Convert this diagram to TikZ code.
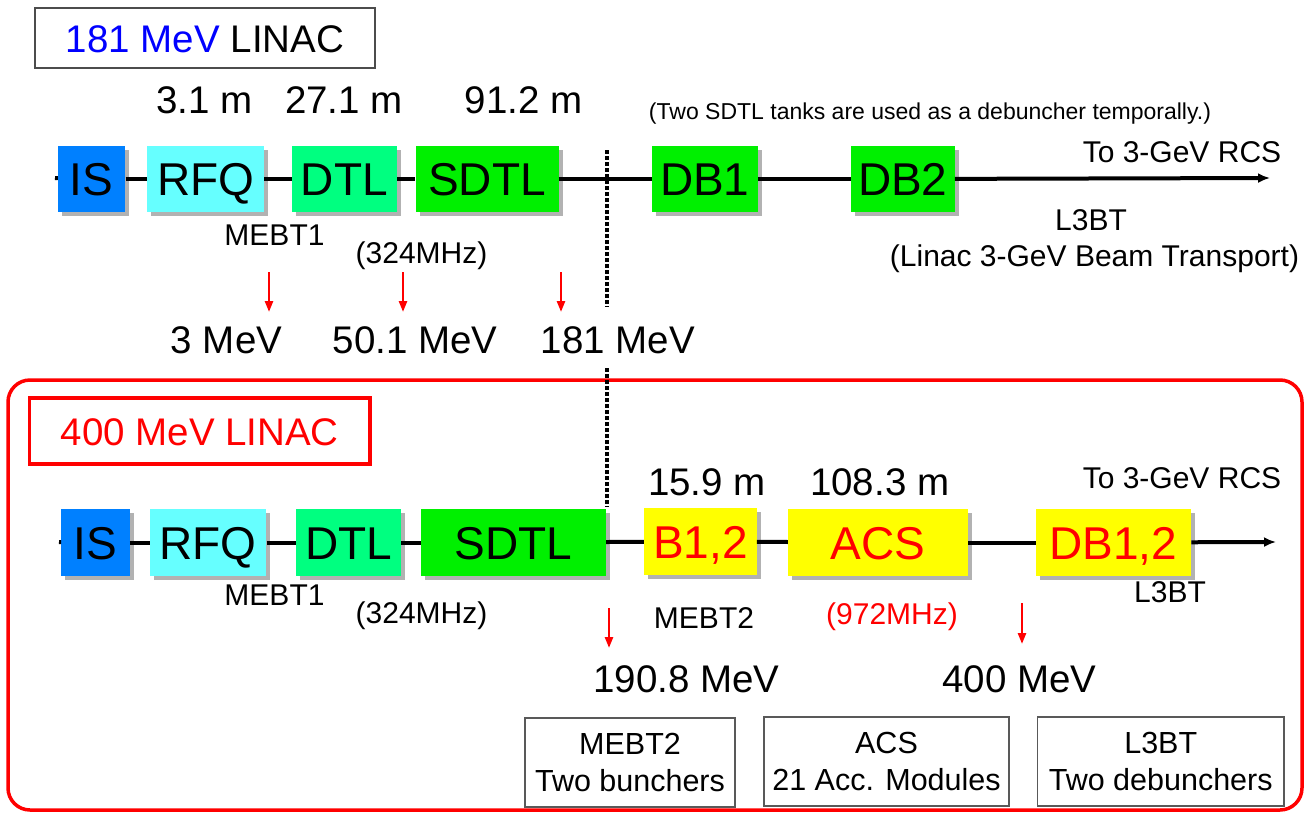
\documentclass[tikz,border=0pt]{standalone}
\usepackage{fontspec}
\setmainfont{Liberation Sans}
\usetikzlibrary{shadows,arrows.meta}
\definecolor{isblue}{RGB}{0,128,255}
\definecolor{rfqcyan}{RGB}{102,255,255}
\definecolor{dtlgreen}{RGB}{0,255,128}
\definecolor{sdtlgreen}{RGB}{0,240,0}
\definecolor{ybox}{RGB}{255,255,0}
\begin{document}
\begin{tikzpicture}[x=1pt,y=-1pt,
  blk/.style={draw=none, inner sep=0pt, text height=33pt, text depth=0pt,
    font=\fontsize{46}{50}\selectfont,
    drop shadow={shadow xshift=4pt, shadow yshift=-4pt, opacity=0.3, fill=black}},
  beam/.style={line width=4pt, black},
  big/.style={font=\fontsize{38.5}{42}\selectfont, inner sep=0pt, anchor=base},
  mid/.style={font=\fontsize{30}{34}\selectfont, inner sep=0pt, anchor=base},
  small/.style={font=\fontsize{23}{26}\selectfont, inner sep=0pt, anchor=base},
  dotl/.style={line width=3.5pt, dash pattern=on 3.5pt off 2.5pt},
  redarr/.style={red, line width=2.5pt, -{Triangle[length=11pt,width=8pt]}},
  infobox/.style={draw=black!65, line width=1.5pt, align=center, inner sep=0pt,
    font=\fontsize{30.5}{37}\selectfont, minimum height=89pt},
  beamend/.style={-{Latex[length=12pt,width=10pt]}}
]
\useasboundingbox (0,0) rectangle (1310,812);

% ---------------- 181 MeV LINAC ----------------
\node[draw=black!70, line width=1.5pt, minimum width=340pt, minimum height=60pt,
      inner sep=0pt, text height=28pt, text depth=0pt,
      font=\fontsize{38.5}{42}\selectfont] (title1) at (205,38)
      {\textcolor{blue}{181 MeV} LINAC};

\node[big] (len1) at (204.5,113) {3.1 m};
\node[big] (len2) at (344,113) {27.1 m};
\node[big] (len3) at (523.5,113) {91.2 m};

\node[small] (note) at (930,119.5) {(Two SDTL tanks are used as a debuncher temporally.)};

\coordinate (s1) at (55,178);
\coordinate (e1) at (1270,178);

\node[blk, fill=isblue, minimum width=67.4pt, minimum height=66pt] (is1) at (91.7,179) {IS};
\node[blk, fill=rfqcyan, minimum width=116.6pt, minimum height=66pt] (rfq1) at (205.6,179) {RFQ};
\node[blk, fill=dtlgreen, minimum width=105.2pt, minimum height=66pt] (dtl1) at (344.3,179) {DTL};
\node[blk, fill=sdtlgreen, minimum width=143pt, minimum height=66pt] (sdtl1) at (487,179) {SDTL};
\node[blk, fill=sdtlgreen, minimum width=105.6pt, minimum height=66pt] (db1) at (704.8,179) {DB1};
\node[blk, fill=sdtlgreen, minimum width=103.6pt, minimum height=66pt] (db2) at (902.8,179) {DB2};

\draw[beam] (s1) -- (is1);
\draw[beam] (is1) -- (rfq1);
\draw[beam] (rfq1) -- (dtl1);
\draw[beam] (dtl1) -- (sdtl1);
\draw[beam] (sdtl1) -- (db1);
\draw[beam] (db1) -- (db2);
\draw[beam, beamend] (db2) -- (e1);

\node[mid] (rcs1) at (1182,162) {To 3-GeV RCS};
\node[mid] (l3bt1) at (1091,230) {L3BT};
\node[mid] (l3btfull) at (1094.5,266) {(Linac 3-GeV Beam Transport)};
\node[mid] (mebt1a) at (274.5,245) {MEBT1};
\node[mid] (freq1) at (421.5,263) {(324MHz)};

\coordinate (a1s) at (269,272); \coordinate (a1e) at (269,312);
\coordinate (a2s) at (403,272); \coordinate (a2e) at (403,312);
\coordinate (a3s) at (561,272); \coordinate (a3e) at (561,312);
\draw[redarr] (a1s) -- (a1e);
\draw[redarr] (a2s) -- (a2e);
\draw[redarr] (a3s) -- (a3e);

\node[big] (en1) at (226.5,353) {3 MeV};
\node[big] (en2) at (415,353) {50.1 MeV};
\node[big] (en3) at (618,353) {181 MeV};

\coordinate (d1s) at (607,150); \coordinate (d1e) at (607,307);
\draw[dotl] (d1s) -- (d1e);

% ---------------- 400 MeV LINAC ----------------
\draw[red, line width=3.5pt, rounded corners=22pt] (8,380) rectangle (1302,810);

\coordinate (d2s) at (607,368); \coordinate (d2e) at (607,507);
\draw[dotl] (d2s) -- (d2e);

\node[draw=red, line width=3.5pt, minimum width=340.5pt, minimum height=66pt,
      inner sep=0pt, text height=28pt, text depth=0pt, text=red,
      font=\fontsize{38.5}{42}\selectfont] (title2) at (199.75,431)
      {400 MeV LINAC};

\node[big] (len4) at (707,495) {15.9 m};
\node[big] (len5) at (879.7,495) {108.3 m};
\node[mid] (rcs2) at (1182,488) {To 3-GeV RCS};

\coordinate (s2) at (59,542);
\coordinate (e2) at (1276,542);

\node[blk, fill=isblue, minimum width=68.2pt, minimum height=67pt] (is2) at (95.5,542.5) {IS};
\node[blk, fill=rfqcyan, minimum width=116.4pt, minimum height=67pt] (rfq2) at (208.2,542.5) {RFQ};
\node[blk, fill=dtlgreen, minimum width=105pt, minimum height=67pt] (dtl2) at (348.5,542.5) {DTL};
\node[blk, fill=sdtlgreen, minimum width=185pt, minimum height=67pt] (sdtl2) at (513.5,542.5) {SDTL};
\node[blk, fill=ybox, text=red, minimum width=112.7pt, minimum height=67pt] (b12) at (700.4,541.5) {B1,2};
\node[blk, fill=ybox, text=red, minimum width=179.8pt, minimum height=67pt] (acs) at (877.9,542.5) {ACS};
\node[blk, fill=ybox, text=red, minimum width=155.3pt, minimum height=67pt] (db12) at (1113.4,542.5) {DB1,2};

\draw[beam] (s2) -- (is2);
\draw[beam] (is2) -- (rfq2);
\draw[beam] (rfq2) -- (dtl2);
\draw[beam] (dtl2) -- (sdtl2);
\draw[beam] (sdtl2) -- (b12);
\draw[beam] (b12) -- (acs);
\draw[beam] (acs) -- (db12);
\draw[beam, beamend] (db12) -- (e2);

\node[mid] (mebt1b) at (274.5,605) {MEBT1};
\node[mid] (freq2) at (421.5,623) {(324MHz)};
\node[mid] (mebt2) at (704,628) {MEBT2};
\node[mid, text=red] (freq3) at (892,624) {(972MHz)};
\node[mid] (l3bt2) at (1170,602) {L3BT};

\coordinate (a4s) at (609,608); \coordinate (a4e) at (609,648);
\coordinate (a5s) at (1022,603); \coordinate (a5e) at (1022,644);
\draw[redarr] (a4s) -- (a4e);
\draw[redarr] (a5s) -- (a5e);

\node[big] (en4) at (686.5,692) {190.8 MeV};
\node[big] (en5) at (1019.5,692) {400 MeV};

\node[infobox, minimum width=210pt] (info1) at (630,762.5) {MEBT2\\Two bunchers};
\node[infobox, minimum width=245pt] (info2) at (886.5,761.5) {ACS\\21 Acc. Modules};
\node[infobox, minimum width=246.5pt] (info3) at (1160.75,761.5) {L3BT\\Two debunchers};

\end{tikzpicture}
\end{document}
